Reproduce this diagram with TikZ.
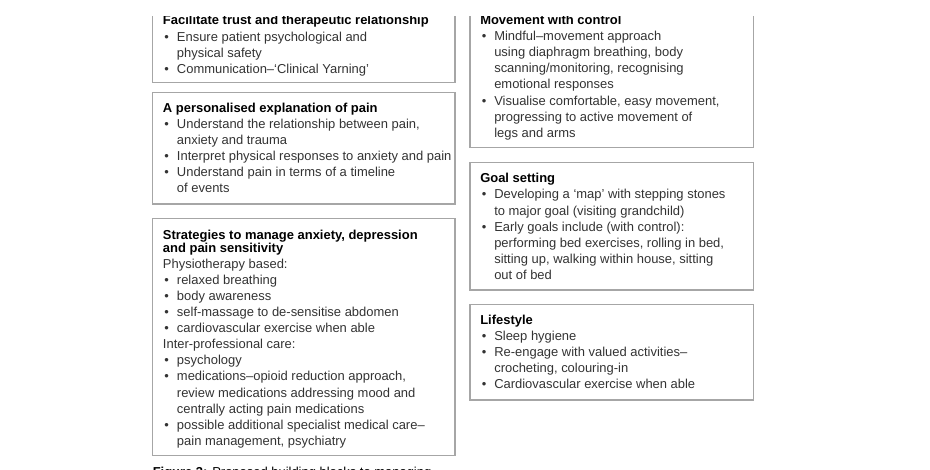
\documentclass[tikz,border=0pt]{standalone}
\usepackage{fontspec}
\setmainfont{Liberation Sans}
\usetikzlibrary{fit}
\newlength\px \setlength\px{0.75pt}
\newcommand\bu{\hspace*{1.5\px}\makebox[12.5\px][l]{•}}
\newcommand\ct{\hspace*{14\px}}
\newcommand\ttl[1]{{\bfseries\color{black}#1}}
\definecolor{boxgray}{HTML}{A6A6A6}
\definecolor{txtgray}{HTML}{333333}
\begin{document}
\begin{tikzpicture}[x=0.75pt,y=-0.75pt,
  boxst/.style={draw=boxgray, line width=0.9pt, inner sep=0pt},
  txt/.style={anchor=base west, inner sep=0pt, text=txtgray,
    font=\fontsize{9.72}{12.075}\selectfont}]
\useasboundingbox (0,0) rectangle (930,470);
\begin{scope}
\clip (0,17) rectangle (930,470);
% left column
\node[boxst, fit={(152.7,4.4) (455,82.7)}] (b1) {};
\node[txt] (t1) at (162.7,25) {\begin{tabular}[t]{@{}l@{}}
\ttl{Facilitate trust and therapeutic relationship}\\
\bu Ensure patient psychological and\\
\ct physical safety\\
\bu Communication–‘Clinical Yarning’
\end{tabular}};
\node[boxst, fit={(152.7,92.7) (455,204)}] (b2) {};
\node[txt] (t2) at (162.7,112.5) {\begin{tabular}[t]{@{}l@{}}
\ttl{A personalised explanation of pain}\\
\bu Understand the relationship between pain,\\
\ct anxiety and trauma\\
\bu Interpret physical responses to anxiety and pain\\
\bu Understand pain in terms of a timeline\\
\ct of events
\end{tabular}};
\node[boxst, fit={(152.7,218.5) (455,455.8)}] (b3) {};
\node[txt] (t3) at (162.7,239) {\begin{tabular}[t]{@{}l@{}}
\ttl{Strategies to manage anxiety, depression}\\[-3\px]
\ttl{and pain sensitivity}\\
Physiotherapy based:\\
\bu relaxed breathing\\
\bu body awareness\\
\bu self-massage to de-sensitise abdomen\\
\bu cardiovascular exercise when able\\
Inter-professional care:\\
\bu psychology\\
\bu medications–opioid reduction approach,\\
\ct review medications addressing mood and\\
\ct centrally acting pain medications\\
\bu possible additional specialist medical care–\\
\ct pain management, psychiatry
\end{tabular}};
% right column
\node[boxst, fit={(470,4) (753.3,147.7)}] (b4) {};
\node[txt] (t4) at (480,24.6) {\begin{tabular}[t]{@{}l@{}}
\ttl{Movement with control}\\
\bu Mindful–movement approach\\
\ct using diaphragm breathing, body\\
\ct scanning/monitoring, recognising\\
\ct emotional responses\\
\bu Visualise comfortable, easy movement,\\
\ct progressing to active movement of\\
\ct legs and arms
\end{tabular}};
\node[boxst, fit={(470,162.3) (753.3,290)}] (b5) {};
\node[txt] (t5) at (480,182.8) {\begin{tabular}[t]{@{}l@{}}
\ttl{Goal setting}\\
\bu Developing a ‘map’ with stepping stones\\
\ct to major goal (visiting grandchild)\\
\bu Early goals include (with control):\\
\ct performing bed exercises, rolling in bed,\\
\ct sitting up, walking within house, sitting\\
\ct out of bed
\end{tabular}};
\node[boxst, fit={(470,304.3) (753.3,400)}] (b6) {};
\node[txt] (t6) at (480,324.3) {\begin{tabular}[t]{@{}l@{}}
\ttl{Lifestyle}\\
\bu Sleep hygiene\\
\bu Re-engage with valued activities–\\
\ct crocheting, colouring-in\\
\bu Cardiovascular exercise when able
\end{tabular}};
% caption (cut off at the bottom edge)
\node[txt, text=black] (cap) at (152.5,476) {\textbf{Figure 3:} Proposed building blocks to managing};
\end{scope}
\end{tikzpicture}
\end{document}
